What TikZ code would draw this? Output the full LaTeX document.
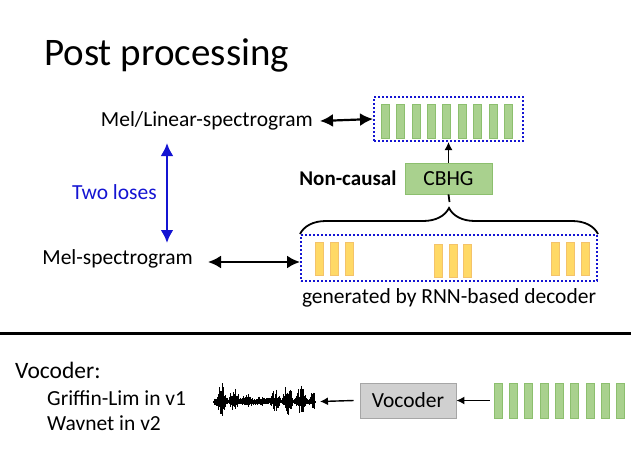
\documentclass[tikz,border=0pt]{standalone}
\usepackage{fontspec}
\setmainfont{Carlito}
\usetikzlibrary{arrows.meta,decorations.pathreplacing,positioning}

\definecolor{barGreen}{HTML}{A9D18E}
\definecolor{barGreenEdge}{HTML}{8CBF6E}
\definecolor{barYellow}{HTML}{FFD966}
\definecolor{barYellowEdge}{HTML}{F4C36A}
\definecolor{boxGray}{HTML}{D0D0D0}
\definecolor{boxGrayEdge}{HTML}{A6A6A6}
\definecolor{dotBlue}{HTML}{1414D2}

\tikzset{
  lbl/.style={font=\fontsize{21.5}{25}\selectfont, inner sep=0pt},
  gbar/.style={rectangle, draw=barGreenEdge, fill=barGreen, line width=0.6pt,
    minimum width=8pt, minimum height=34pt, inner sep=0pt},
  ybar/.style={rectangle, draw=barYellowEdge, fill=barYellow, line width=0.6pt,
    minimum width=8pt, minimum height=33pt, inner sep=0pt},
  dotbox/.style={rectangle, draw=dotBlue, dotted, line width=2pt, inner sep=0pt},
  module/.style={rectangle, draw, line width=0.8pt, inner sep=0pt,
    font=\fontsize{21.5}{25}\selectfont},
  twoway/.style={{Latex[length=13pt,width=13pt]}-{Latex[length=13pt,width=13pt]}, line width=2.2pt},
  feed/.style={-{Latex[length=8pt,width=8pt]}, line width=1.4pt},
}

\begin{document}
\begin{tikzpicture}[x=1pt,y=-1pt]
    \useasboundingbox (0,0) rectangle (631,456);

    % title
    \node[font=\fontsize{39}{44}\selectfont, anchor=base west, inner sep=0pt] (title) at (44,65) {Post processing};

    % upper part: CBHG output
    \node[dotbox, minimum width=149pt, minimum height=44pt] (linbox) at (448.5,119) {};
    \foreach \i in {1,...,9}
        \node[gbar] (lin\i) at ({385+(\i-1)*15.4},121) {};
    \node[lbl, anchor=east] (mellin) at (313,121) {Mel/Linear-spectrogram};
    \draw[twoway] (mellin.east) ++(7,0) coordinate (mlend) -- (linbox.west);

    \node[module, draw=barGreenEdge, fill=barGreen, minimum width=87pt, minimum height=31pt] (cbhg) at (448.5,178.5) {CBHG};
    \node[lbl, font=\fontsize{21}{25}\selectfont\bfseries, left=8pt of cbhg] (noncausal) {Non-causal};
    \draw[feed] (cbhg.north) -- (cbhg.north |- linbox.south);

    % lower part: decoder output
    \node[dotbox, minimum width=296pt, minimum height=46pt] (decbox) at (449,258) {};
    \foreach \x [count=\i] in {319,334,349}
        \node[ybar] (ya\i) at (\x,258.5) {};
    \foreach \x [count=\i] in {438,453,467.5}
        \node[ybar] (yb\i) at (\x,261) {};
    \foreach \x [count=\i] in {555,570,585}
        \node[ybar] (yc\i) at (\x,258.5) {};
    \node[lbl, below=6pt of decbox] (gentext) {generated by RNN-based decoder};

    \draw[decorate, decoration={brace, amplitude=26pt}, line width=1.8pt]
        (decbox.north west) -- (decbox.north east);
    \coordinate (bracetip) at (449.5,202);
    \draw[line width=1.8pt] (cbhg.south) -- (bracetip);

    \node[lbl, anchor=east] (melspec) at (193,259) {Mel-spectrogram};
    \draw[twoway] (melspec.east) ++(15,3) coordinate (msend) -- (decbox.west |- msend);

    % the two losses
    \coordinate (losstop) at (167,143);
    \coordinate (lossbot) at (167,243);
    \draw[twoway, draw=dotBlue, line width=2.8pt] (losstop) -- (lossbot);
    \node[lbl, text=dotBlue, anchor=east] (twoloses) at (157,192) {Two loses};

    % separator
    \coordinate (sepl) at (0,333);
    \coordinate (sepr) at (631,333);
    \draw[line width=3pt] (sepl) -- (sepr);

    % vocoder part
    \node[font=\fontsize{23.5}{28}\selectfont, anchor=west, inner sep=0pt] (vochead) at (15,370) {Vocoder:};
    \node[font=\fontsize{21.5}{25}\selectfont, anchor=west, inner sep=0pt] (griffin) at (47,398) {Griffin-Lim in v1};
    \node[font=\fontsize{21.5}{25}\selectfont, anchor=west, inner sep=0pt] (wavnet) at (47,423) {Wavnet in v2};

    \node[module, draw=boxGrayEdge, fill=boxGray, minimum width=96pt, minimum height=35pt] (vocbox) at (408,400.5) {Vocoder};
    \foreach \i in {1,...,9}
        \node[gbar, minimum height=35pt] (out\i) at ({498+(\i-1)*15.3},400.5) {};
    \draw[feed] (out1.west) ++(-4,0) coordinate (outin) -- (vocbox.east);

    % waveform
    \pgfmathsetseed{11}
    \draw[line width=1.4pt] (213,402) -- (316,402);
    \foreach \i in {0,...,100} {
        \pgfmathsetmacro\env{0.12+0.88*abs(sin(\i*13.5))^2*(0.55+0.45*sin(\i*5.3+40))}
        \pgfmathsetmacro\up{1.5+22*\env*(0.2+0.8*rnd)}
        \pgfmathsetmacro\dn{1+15*\env*(0.15+0.85*rnd)}
        \draw[line width=0.6pt] ({214+1.0*\i},{402-\up}) -- ({214+1.0*\i},{402+\dn});
    }
    \coordinate (wave) at (320,401.5);
    \draw[feed] (vocbox.west) ++(-6,0) coordinate (vocout) -- (wave);
\end{tikzpicture}
\end{document}
